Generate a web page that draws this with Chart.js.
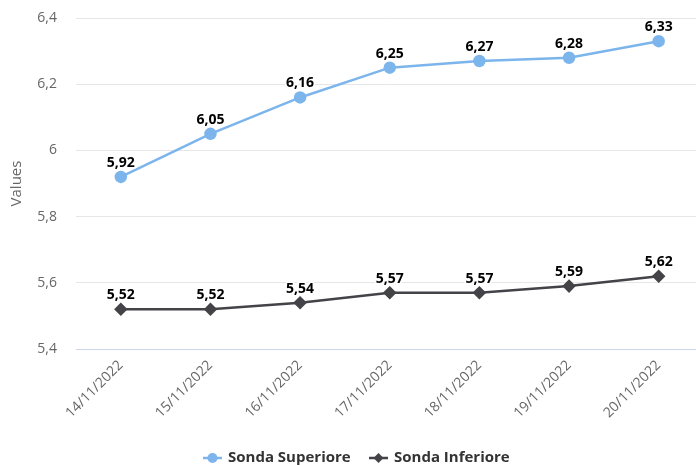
<!DOCTYPE html>
<html>
<head>
<meta charset="utf-8">
<script src="https://cdn.jsdelivr.net/npm/chart.js@4"></script>
<style>
  html, body { margin: 0; padding: 0; overflow: hidden; background: #fff; }
  #wrap { width: 711px; height: 465px; }
</style>
</head>
<body>
<div id="wrap"><canvas id="chart"></canvas></div>
<script>
const dates = ["14/11/2022", "15/11/2022", "16/11/2022", "17/11/2022", "18/11/2022", "19/11/2022", "20/11/2022"];
const sondaSuperiore = [5.92, 6.05, 6.16, 6.25, 6.27, 6.28, 6.33];
const sondaInferiore = [5.52, 5.52, 5.54, 5.57, 5.57, 5.59, 5.62];
const yTicks = [5.4, 5.6, 5.8, 6, 6.2, 6.4];

const FONT = "'Open Sans', 'Noto Sans', sans-serif";
const BLUE = "#7cb5ec";
const DARK = "#434348";

function fmt(v) {
  return String(parseFloat(v.toFixed(2))).replace(".", ",");
}

// draws the value above every point, black with a white outline
const valueLabels = {
  id: "valueLabels",
  afterDatasetsDraw(chart) {
    const ctx = chart.ctx;
    ctx.save();
    ctx.font = "bold 14px " + FONT;
    ctx.textAlign = "center";
    ctx.textBaseline = "middle";
    ctx.lineJoin = "round";
    chart.data.datasets.forEach((ds, i) => {
      chart.getDatasetMeta(i).data.forEach((pt, j) => {
        const txt = fmt(ds.data[j]);
        ctx.lineWidth = 3.5;
        ctx.strokeStyle = "#fff";
        ctx.strokeText(txt, pt.x, pt.y - 14);
        ctx.fillStyle = "#000";
        ctx.fillText(txt, pt.x, pt.y - 14);
      });
    });
    ctx.restore();
  }
};

// legend at the bottom: line + marker + bold name
const bottomLegend = {
  id: "bottomLegend",
  afterDraw(chart) {
    const ctx = chart.ctx;
    const items = [
      { name: "Sonda Superiore", color: BLUE, x: 203, shape: "circle" },
      { name: "Sonda Inferiore", color: DARK, x: 369, shape: "diamond" }
    ];
    const y = 458;
    ctx.save();
    ctx.font = "bold 15px " + FONT;
    ctx.textBaseline = "middle";
    items.forEach(it => {
      ctx.strokeStyle = it.color;
      ctx.fillStyle = it.color;
      ctx.lineWidth = 2.5;
      ctx.beginPath();
      ctx.moveTo(it.x, y);
      ctx.lineTo(it.x + 19, y);
      ctx.stroke();
      ctx.beginPath();
      if (it.shape === "circle") {
        ctx.arc(it.x + 9.5, y, 5, 0, Math.PI * 2);
      } else {
        ctx.moveTo(it.x + 9.5, y - 5);
        ctx.lineTo(it.x + 14.5, y);
        ctx.lineTo(it.x + 9.5, y + 5);
        ctx.lineTo(it.x + 4.5, y);
        ctx.closePath();
      }
      ctx.fill();
      ctx.fillStyle = "#333";
      ctx.fillText(it.name, it.x + 25, y);
    });
    ctx.restore();
  }
};

new Chart(document.getElementById("chart"), {
  type: "line",
  data: {
    labels: dates,
    datasets: [
      {
        label: "Sonda Superiore",
        data: sondaSuperiore,
        borderColor: BLUE,
        backgroundColor: BLUE,
        borderWidth: 2.5,
        pointStyle: "circle",
        pointRadius: 5,
        pointHoverRadius: 5,
        tension: 0
      },
      {
        label: "Sonda Inferiore",
        data: sondaInferiore,
        borderColor: DARK,
        backgroundColor: DARK,
        borderWidth: 2.5,
        pointStyle: "rectRot",
        pointRadius: 5,
        pointHoverRadius: 5,
        tension: 0
      }
    ]
  },
  options: {
    responsive: true,
    maintainAspectRatio: false,
    animation: false,
    layout: { padding: { top: 18, right: 0, bottom: 0, left: 0 } },
    plugins: {
      legend: { display: false },
      tooltip: { enabled: false }
    },
    scales: {
      x: {
        offset: true,
        grid: { display: false, drawTicks: false },
        border: { color: "#ccd6eb", width: 1 },
        ticks: {
          color: "#666",
          font: { family: FONT, size: 14 },
          minRotation: 45,
          maxRotation: 45,
          padding: 8
        },
        afterFit(scale) {
          scale.height = 116;
          scale.paddingTop = 0;
          scale.paddingBottom = 0;
        }
      },
      y: {
        min: 5.4,
        max: 6.4,
        afterBuildTicks(scale) {
          scale.ticks = yTicks.map(v => ({ value: v }));
        },
        grid: { color: "#e6e6e6", drawTicks: false },
        border: { display: false },
        ticks: {
          color: "#666",
          font: { family: FONT, size: 14 },
          padding: 19,
          callback: v => fmt(v)
        },
        title: {
          display: true,
          text: "Values",
          color: "#666",
          font: { family: FONT, size: 15 },
          padding: { top: 8, bottom: 4 }
        },
        afterFit(scale) {
          scale.width = 76;
          scale.paddingTop = 0;
          scale.paddingBottom = 0;
        }
      }
    }
  },
  plugins: [valueLabels, bottomLegend]
});
</script>
</body>
</html>
